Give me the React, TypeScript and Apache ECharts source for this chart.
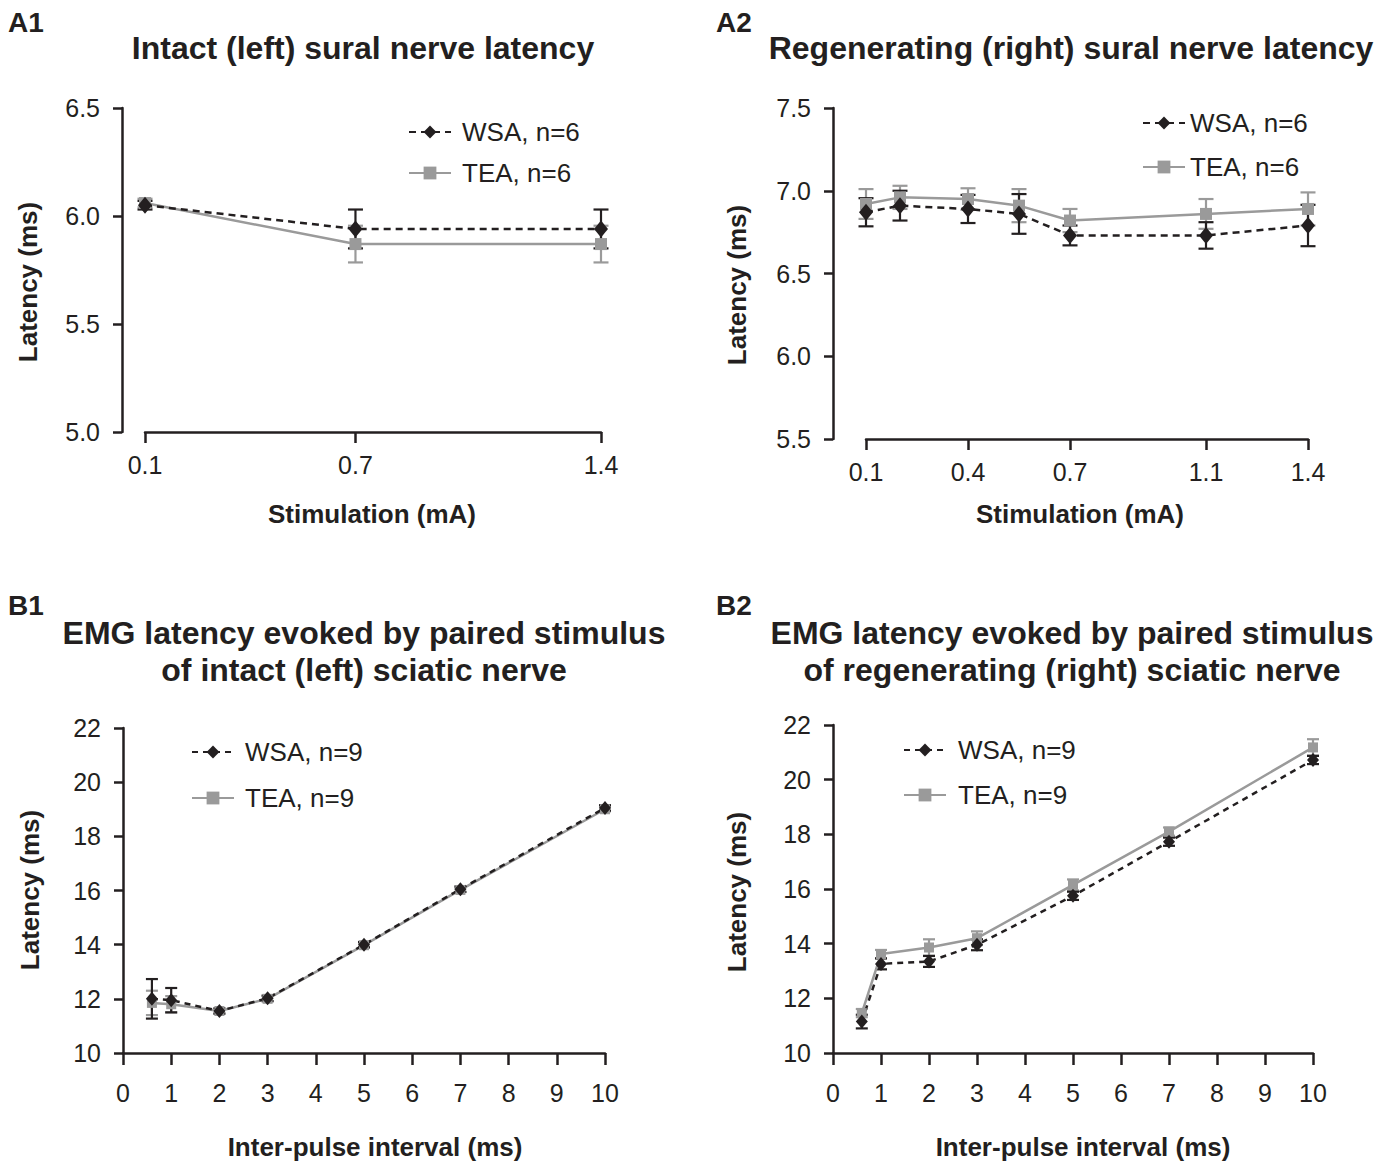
import React, { useEffect, useRef } from "react";
import * as echarts from "echarts";

// ---------- data ----------
const stimA1 = [0.1, 0.7, 1.4];
const stimTicksA1 = [0.1, 0.7, 1.4];
const wsaA1 = [6.05, 5.94, 5.94];
const wsaA1Err = [0.02, 0.09, 0.09];
const teaA1 = [6.06, 5.87, 5.87];
const teaA1Err = [0.02, 0.085, 0.085];

const stimA2 = [0.1, 0.2, 0.4, 0.55, 0.7, 1.1, 1.4];
const stimTicksA2 = [0.1, 0.4, 0.7, 1.1, 1.4];
const wsaA2 = [6.87, 6.91, 6.89, 6.86, 6.73, 6.73, 6.79];
const wsaA2Err = [0.085, 0.09, 0.085, 0.12, 0.06, 0.08, 0.125];
const teaA2 = [6.92, 6.96, 6.95, 6.91, 6.82, 6.86, 6.89];
const teaA2Err = [0.09, 0.07, 0.065, 0.1, 0.07, 0.09, 0.1];

const ipi = [0.6, 1, 2, 3, 5, 7, 10];
const wsaB1 = [12.0, 11.95, 11.55, 12.02, 14.0, 16.05, 19.05];
const wsaB1Err = [0.73, 0.45, 0.1, 0.1, 0.1, 0.1, 0.1];
const teaB1 = [11.85, 11.8, 11.55, 12.0, 13.98, 16.02, 19.0];
const teaB1Err = [0.45, 0.3, 0.08, 0.1, 0.08, 0.08, 0.08];

const wsaB2 = [11.15, 13.26, 13.35, 13.96, 15.75, 17.73, 20.72];
const wsaB2Err = [0.25, 0.2, 0.2, 0.2, 0.15, 0.15, 0.15];
const teaB2 = [11.46, 13.62, 13.86, 14.2, 16.15, 18.1, 21.18];
const teaB2Err = [0.15, 0.15, 0.3, 0.25, 0.2, 0.15, 0.3];

const legendA = ["WSA, n=6", "TEA, n=6"];
const legendB = ["WSA, n=9", "TEA, n=9"];

// ---------- style ----------
const FONT = '"Liberation Sans", Arial, Helvetica, sans-serif';
const INK = "#231f20";
const GREY = "#9a9a9a";

function lineSeries(name: string, xs: number[], ys: number[], gi: number, color: string, symbol: string, size: any, dash: any) {
  return {
    type: "line",
    name,
    xAxisIndex: gi,
    yAxisIndex: gi,
    data: xs.map((x, i) => [x, ys[i]]),
    symbol,
    symbolSize: size,
    showSymbol: true,
    itemStyle: { color },
    lineStyle: { color, width: 2.5, type: dash },
    z: 3,
  };
}

function errSeries(name: string, xs: number[], ys: number[], errs: number[], gi: number, color: string, cap: number) {
  return {
    type: "custom",
    name,
    xAxisIndex: gi,
    yAxisIndex: gi,
    clip: false,
    z: 3,
    data: xs.map((x, i) => [x, ys[i] - errs[i], ys[i] + errs[i]]),
    encode: { x: 0, y: [1, 2] },
    renderItem: (params: any, api: any) => {
      const x = api.value(0);
      const lo = api.coord([x, api.value(1)]);
      const hi = api.coord([x, api.value(2)]);
      const h = cap / 2;
      const st = { stroke: color, lineWidth: 2.2 };
      return {
        type: "group",
        children: [
          { type: "line", shape: { x1: lo[0], y1: lo[1], x2: hi[0], y2: hi[1] }, style: st },
          { type: "line", shape: { x1: lo[0] - h, y1: lo[1], x2: lo[0] + h, y2: lo[1] }, style: st },
          { type: "line", shape: { x1: hi[0] - h, y1: hi[1], x2: hi[0] + h, y2: hi[1] }, style: st },
        ],
      };
    },
  };
}

function xAxisCfg(gi: number, min: number, max: number, opts: any) {
  return {
    gridIndex: gi,
    type: "value",
    min,
    max,
    ...opts.range,
    axisLine: { show: true, onZero: false, lineStyle: { color: INK, width: 2.5 } },
    axisTick: { show: true, length: opts.tickLen, lineStyle: { color: INK, width: 2.5 }, ...(opts.ticks ? { customValues: opts.ticks } : {}) },
    axisLabel: {
      color: INK,
      fontFamily: FONT,
      fontSize: 25,
      margin: opts.margin,
      ...(opts.ticks ? { customValues: opts.ticks } : {}),
      formatter: opts.fmt,
    },
    splitLine: { show: false },
  };
}

function yAxisCfg(gi: number, min: number, max: number, interval: number, offset: number, fmt: any) {
  return {
    gridIndex: gi,
    type: "value",
    min,
    max,
    interval,
    offset,
    axisLine: { show: true, onZero: false, lineStyle: { color: INK, width: 2.5 } },
    axisTick: { show: true, length: 9, lineStyle: { color: INK, width: 2.5 } },
    axisLabel: { color: INK, fontFamily: FONT, fontSize: 25, margin: 22, formatter: fmt },
    splitLine: { show: false },
  };
}

function legendCfg(names: string[], left: number, top: number, gap: number, pad: number) {
  return {
    data: names,
    orient: "vertical",
    left,
    top,
    itemWidth: 42,
    itemHeight: 16,
    itemGap: gap,
    selectedMode: false,
    textStyle: { fontFamily: FONT, fontSize: 26, color: INK, lineHeight: 26, padding: [0, 0, 0, pad] },
  };
}

function txt(text: string, x: number, y: number, size: number, bold: boolean, align = "center", rot = 0) {
  return {
    type: "text",
    x,
    y,
    rotation: rot,
    style: {
      text,
      fill: INK,
      font: `${bold ? "bold " : ""}${size}px ${FONT}`,
      textAlign: align,
      textVerticalAlign: "middle",
    },
  };
}

const f1 = (v: number) => v.toFixed(1);
const f0 = (v: number) => String(Math.round(v));

export default function App() {
  const ref = useRef<HTMLDivElement>(null);
  useEffect(() => {
    document.body.style.margin = "0";
    const chart = echarts.init(ref.current!, null, { renderer: "svg" });
    const option: any = {
      animation: false,
      backgroundColor: "#ffffff",
      grid: [
        { left: 145, top: 108, width: 456, height: 324, outerBoundsMode: "none" },
        { left: 866, top: 108, width: 442, height: 331, outerBoundsMode: "none" },
        { left: 123, top: 728, width: 482, height: 325, outerBoundsMode: "none" },
        { left: 833, top: 725, width: 480, height: 328, outerBoundsMode: "none" },
      ],
      xAxis: [
        xAxisCfg(0, 0.1, 1.4, { ticks: stimTicksA1, fmt: f1, tickLen: 11, margin: 20 }),
        xAxisCfg(1, 0.1, 1.4, { ticks: stimTicksA2, fmt: f1, tickLen: 11, margin: 20 }),
        xAxisCfg(2, 0, 10, { range: { interval: 1 }, fmt: f0, tickLen: 12, margin: 27 }),
        xAxisCfg(3, 0, 10, { range: { interval: 1 }, fmt: f0, tickLen: 12, margin: 27 }),
      ],
      yAxis: [
        yAxisCfg(0, 5, 6.5, 0.5, 23, f1),
        yAxisCfg(1, 5.5, 7.5, 0.5, 33, f1),
        yAxisCfg(2, 10, 22, 2, 0, f0),
        yAxisCfg(3, 10, 22, 2, 0, f0),
      ],
      legend: [
        legendCfg(legendA, 403, 114, 15, 6),
        legendCfg(legendA, 1137, 105, 18, 0),
        legendCfg(legendB, 186, 734, 20, 6),
        legendCfg(legendB, 898, 732, 19, 7),
      ],
      series: [
        errSeries("TEA A1 err", stimA1, teaA1, teaA1Err, 0, GREY, 15),
        lineSeries(legendA[1], stimA1, teaA1, 0, GREY, "rect", 12, "solid"),
        errSeries("WSA A1 err", stimA1, wsaA1, wsaA1Err, 0, INK, 15),
        lineSeries(legendA[0], stimA1, wsaA1, 0, INK, "diamond", [14, 17], [7, 5]),

        errSeries("TEA A2 err", stimA2, teaA2, teaA2Err, 1, GREY, 15),
        lineSeries(legendA[1], stimA2, teaA2, 1, GREY, "rect", 12, "solid"),
        errSeries("WSA A2 err", stimA2, wsaA2, wsaA2Err, 1, INK, 15),
        lineSeries(legendA[0], stimA2, wsaA2, 1, INK, "diamond", [14, 17], [7, 5]),

        errSeries("TEA B1 err", ipi, teaB1, teaB1Err, 2, GREY, 12),
        lineSeries(legendB[1], ipi, teaB1, 2, GREY, "rect", 10, "solid"),
        errSeries("WSA B1 err", ipi, wsaB1, wsaB1Err, 2, INK, 12),
        lineSeries(legendB[0], ipi, wsaB1, 2, INK, "diamond", [12, 14], [6, 5]),

        errSeries("TEA B2 err", ipi, teaB2, teaB2Err, 3, GREY, 12),
        lineSeries(legendB[1], ipi, teaB2, 3, GREY, "rect", 10, "solid"),
        errSeries("WSA B2 err", ipi, wsaB2, wsaB2Err, 3, INK, 12),
        lineSeries(legendB[0], ipi, wsaB2, 3, INK, "diamond", [12, 14], [6, 5]),
      ],
      graphic: [
        txt("A1", 8, 22, 28, true, "left"),
        txt("A2", 716, 22, 28, true, "left"),
        txt("B1", 8, 605, 28, true, "left"),
        txt("B2", 716, 605, 28, true, "left"),
        txt("Intact (left) sural nerve latency", 363, 48, 32, true),
        txt("Regenerating (right) sural nerve latency", 1071, 48, 32, true),
        txt("EMG latency evoked by paired stimulus", 364, 633, 32, true),
        txt("of intact (left) sciatic nerve", 364, 670, 32, true),
        txt("EMG latency evoked by paired stimulus", 1072, 633, 32, true),
        txt("of regenerating (right) sciatic nerve", 1072, 670, 32, true),
        txt("Stimulation (mA)", 372, 514, 26, true),
        txt("Stimulation (mA)", 1080, 514, 26, true),
        txt("Inter-pulse interval (ms)", 375, 1147, 26, true),
        txt("Inter-pulse interval (ms)", 1083, 1147, 26, true),
        txt("Latency (ms)", 28, 282, 26, true, "center", Math.PI / 2),
        txt("Latency (ms)", 737, 285, 26, true, "center", Math.PI / 2),
        txt("Latency (ms)", 30, 890, 26, true, "center", Math.PI / 2),
        txt("Latency (ms)", 737, 892, 26, true, "center", Math.PI / 2),
      ],
    };
    chart.setOption(option);
    return () => chart.dispose();
  }, []);
  return <div ref={ref} style={{ position: "fixed", left: 0, top: 0, width: 1385, height: 1162 }} />;
}
